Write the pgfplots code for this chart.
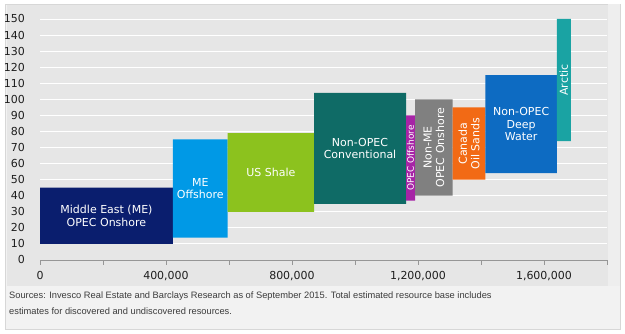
\documentclass[border=0pt]{standalone}
\usepackage{pgfplots}
\pgfplotsset{compat=1.18}
\usepackage{fontspec}
\setmainfont{DejaVu Sans}
\newfontfamily\footfont{Liberation Sans}
\definecolor{cME}{RGB}{10,30,110}
\definecolor{cMEO}{RGB}{0,153,230}
\definecolor{cUS}{RGB}{140,194,30}
\definecolor{cNOC}{RGB}{15,107,102}
\definecolor{cOO}{RGB}{166,36,166}
\definecolor{cNME}{RGB}{128,128,128}
\definecolor{cCAN}{RGB}{242,106,21}
\definecolor{cDW}{RGB}{13,107,194}
\definecolor{cARC}{RGB}{26,163,163}
\definecolor{plotbg}{RGB}{230,230,230}
\definecolor{footbg}{RGB}{242,242,242}
\definecolor{stripbg}{RGB}{238,238,238}
\definecolor{framecol}{RGB}{215,215,215}
\definecolor{axisgray}{RGB}{150,150,150}
\definecolor{tickcol}{RGB}{30,30,30}
\definecolor{footcol}{RGB}{60,60,60}
\begin{document}
\begin{tikzpicture}[x=1pt,y=1pt]
\useasboundingbox (0,0) rectangle (625,334);
\fill[white] (0,0) rectangle (625,334);
\filldraw[fill=footbg, draw=framecol, line width=0.8pt] (5,5) rectangle (620,330);
\fill[stripbg] (608,48) rectangle (619.6,329.6);
\fill[plotbg] (7,48) rectangle (608,329);
\begin{axis}[
  at={(40pt,74pt)}, anchor=south west, scale only axis,
  width=567pt, height=241pt,
  xmin=0, xmax=1800000, ymin=0, ymax=150,
  scaled x ticks=false,
  axis lines*=left,
  x axis line style={draw=axisgray, line width=0.8pt},
  y axis line style={draw=none},
  xtick={0,400000,800000,1200000,1600000},
  xticklabels={0,{400,000},{800,000},{1,200,000},{1,600,000}},
  minor xtick={200000,600000,1000000,1400000,1800000},
  ytick={0,10,...,150},
  tick align=outside,
  major tick length=5pt, minor tick length=5pt,
  xtick style={draw=axisgray, line width=0.8pt},
  minor x tick style={draw=axisgray, line width=0.8pt},
  ytick style={draw=none},
  ymajorgrids, grid style={draw=white, line width=0.9pt},
  ticklabel style={font=\fontsize{11}{13}\selectfont, text=tickcol},
  yticklabel style={inner sep=0pt, anchor=east, xshift=-10pt},
  xticklabel style={inner sep=0pt, anchor=base, yshift=-15pt},
  /pgf/number format/assume math mode=true,
  clip=false,
  every axis plot/.append style={draw=none},
  nodes={text=white, align=center, inner sep=0pt, font=\fontsize{11}{12.5}\selectfont},
]
\addplot[fill=cME]  coordinates {(0,10) (422000,10) (422000,45) (0,45) (0,10)};
\addplot[fill=cMEO] coordinates {(422000,14) (596000,14) (596000,75) (422000,75) (422000,14)};
\addplot[fill=cUS]  coordinates {(596000,30) (870000,30) (870000,79) (596000,79) (596000,30)};
\addplot[fill=cNOC] coordinates {(870000,35) (1162000,35) (1162000,104) (870000,104) (870000,35)};
\addplot[fill=cOO]  coordinates {(1162000,37) (1191000,37) (1191000,90) (1162000,90) (1162000,37)};
\addplot[fill=cNME] coordinates {(1191000,40) (1310000,40) (1310000,100) (1191000,100) (1191000,40)};
\addplot[fill=cCAN] coordinates {(1310000,50) (1414000,50) (1414000,95) (1310000,95) (1310000,50)};
\addplot[fill=cDW]  coordinates {(1414000,54) (1641000,54) (1641000,115) (1414000,115) (1414000,54)};
\addplot[fill=cARC] coordinates {(1641000,74) (1685000,74) (1685000,150) (1641000,150) (1641000,74)};
\node at (axis cs:211000,27.5) {Middle East (ME)\\OPEC Onshore};
\node at (axis cs:509000,44.5) {ME\\Offshore};
\node at (axis cs:733000,54.5) {US Shale};
\node at (axis cs:1016000,69.5) {Non-OPEC\\Conventional};
\node[rotate=90, font=\fontsize{9}{10}\selectfont] at (axis cs:1176500,63.5) {OPEC Offshore};
\node[rotate=90] at (axis cs:1250500,70) {Non-ME\\OPEC Onshore};
\node[rotate=90] at (axis cs:1362000,72.5) {Canada\\Oil Sands};
\node at (axis cs:1527500,84.5) {Non-OPEC\\Deep\\Water};
\node[rotate=90] at (axis cs:1663000,112) {Arctic};
\end{axis}
\node[anchor=base west, inner sep=0pt, font=\footfont\fontsize{9.3}{11}\selectfont, text=footcol] at (9,35) {Sources: Invesco Real Estate and Barclays Research as of September 2015. Total estimated resource base includes};
\node[anchor=base west, inner sep=0pt, font=\footfont\fontsize{9.3}{11}\selectfont, text=footcol] at (9,19) {estimates for discovered and undiscovered resources.};
\end{tikzpicture}
\end{document}
